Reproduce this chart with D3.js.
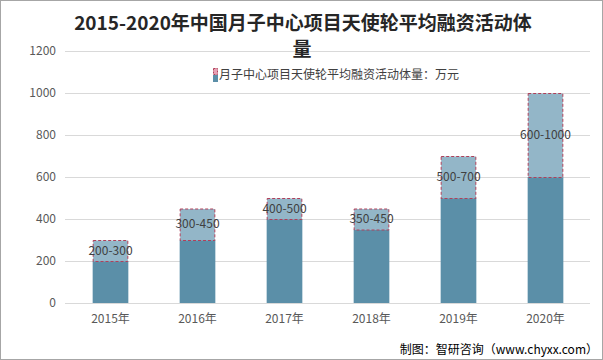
<!DOCTYPE html>
<html><head><meta charset="utf-8">
<script src="https://cdnjs.cloudflare.com/ajax/libs/d3/7.8.5/d3.min.js"></script>
<style>body{margin:0;background:#fff;}svg{display:block;}</style>
</head><body>
<svg id="c" width="603" height="360"></svg>
<script>
const categories = ["2015年","2016年","2017年","2018年","2019年","2020年"];
const baseValues = [200,300,400,350,500,600];
const rangeValues = [100,150,100,100,200,400];
const rangeLabels = ["200-300","300-450","400-500","350-450","500-700","600-1000"];
const yTicks = [0,200,400,600,800,1000,1200];
const legendText = "月子中心项目天使轮平均融资活动体量：万元";

const svg = d3.select("#c");
const font = "'Noto Sans CJK SC','Microsoft YaHei',sans-serif";
svg.append("rect").attr("x",0.5).attr("y",0.5).attr("width",602).attr("height",359)
  .attr("fill","#fff").attr("stroke","#A6A6A6");

const x = d3.scaleBand().domain(categories).range([67,589]).paddingInner(0.59).paddingOuter(0.295);
const y = d3.scaleLinear().domain([0,1200]).range([303,51]);

// grid
svg.append("g").selectAll("line").data(yTicks).join("line")
  .attr("x1",65).attr("x2",590).attr("y1",d=>Math.round(y(d))+0.5).attr("y2",d=>Math.round(y(d))+0.5)
  .attr("stroke","#D9D9D9").attr("stroke-width",1);

// y axis labels
const ya = svg.append("g").attr("transform","translate(56,0)")
  .call(d3.axisLeft(y).tickValues(yTicks).tickFormat(d3.format("d")).tickSize(0).tickPadding(0));
ya.select(".domain").remove();
ya.selectAll("text").attr("font-family",font).attr("font-size",12).attr("fill","#595959");

// x axis labels
const xa = svg.append("g").attr("transform","translate(0,303)")
  .call(d3.axisBottom(x).tickSize(0).tickPadding(11));
xa.select(".domain").remove();
xa.selectAll("text").attr("font-family",font).attr("font-size",12).attr("fill","#595959");

// bars
const g = svg.append("g");
g.selectAll(".b").data(categories).join("rect")
  .attr("x",d=>x(d)).attr("width",x.bandwidth())
  .attr("y",(d,i)=>y(baseValues[i])).attr("height",(d,i)=>y(0)-y(baseValues[i]))
  .attr("fill","#5B8FA8");
g.selectAll(".t").data(categories).join("rect")
  .attr("x",d=>x(d)+0.5).attr("width",x.bandwidth()-1)
  .attr("y",(d,i)=>y(baseValues[i]+rangeValues[i])+0.5)
  .attr("height",(d,i)=>y(baseValues[i])-y(baseValues[i]+rangeValues[i]))
  .attr("fill","#93B6C8").attr("stroke","#B0405A").attr("stroke-width",1).attr("stroke-dasharray","3,2");
g.selectAll(".l").data(categories).join("text")
  .attr("x",d=>x(d)+x.bandwidth()/2)
  .attr("y",(d,i)=>y(baseValues[i]+rangeValues[i]/2))
  .attr("dy","0.35em").attr("text-anchor","middle")
  .attr("font-family",font).attr("font-size",12).attr("fill","#404040")
  .text((d,i)=>rangeLabels[i]);

// title
svg.append("text").attr("x",303).attr("y",30).attr("text-anchor","middle")
  .attr("font-family",font).attr("font-weight","bold").attr("font-size",19).attr("fill","#262626")
  .text("2015-2020年中国月子中心项目天使轮平均融资活动体");
svg.append("text").attr("x",302).attr("y",56).attr("text-anchor","middle")
  .attr("font-family",font).attr("font-weight","bold").attr("font-size",19).attr("fill","#262626")
  .text("量");

// legend
svg.append("rect").attr("x",213.5).attr("y",68.5).attr("width",4).attr("height",6)
  .attr("fill","#E8A0B4").attr("stroke","#B0405A").attr("stroke-dasharray","2,1");
svg.append("rect").attr("x",213).attr("y",75).attr("width",5).attr("height",7).attr("fill","#5B8FA8");
svg.append("text").attr("x",219).attr("y",75).attr("dy","0.35em")
  .attr("font-family",font).attr("font-size",12).attr("fill","#404040").text(legendText);

// source
svg.append("text").attr("x",598).attr("y",350).attr("dy","0.35em").attr("text-anchor","end")
  .attr("font-family",font).attr("font-size",12).attr("fill","#000").text("制图：智研咨询（www.chyxx.com）");
</script>
</body></html>
